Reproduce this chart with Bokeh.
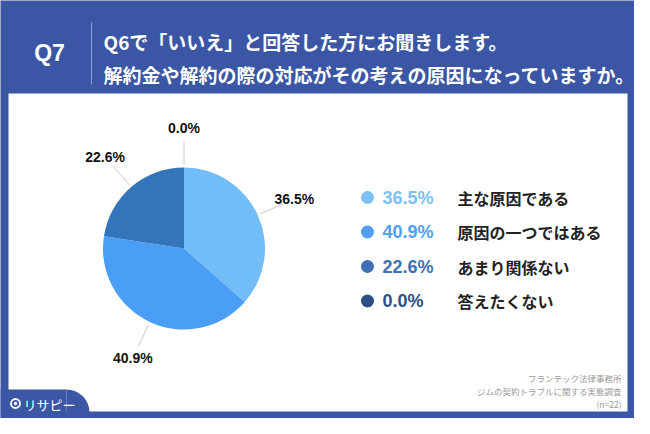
import math
from bokeh.plotting import figure
from bokeh.models import Range1d
from bokeh.core.properties import value
from bokeh.embed import file_html
from bokeh.resources import INLINE

# ---- data ----
categories = ["主な原因である", "原因の一つではある", "あまり関係ない", "答えたくない"]
percents = [36.5, 40.9, 22.6, 0.0]
colors = ["#72bdf8", "#4a9ef5", "#3474b8", "#2c4f85"]
legend_colors = ["#7cc0f6", "#519ff0", "#3d71b3", "#2c4f85"]
question_id = "Q7"
title_lines = ["Q6で「いいえ」と回答した方にお聞きします。",
               "解約金や解約の際の対応がその考えの原因になっていますか。"]
source_lines = ["フランテック法律事務所", "ジムの契約トラブルに関する実態調査", "(n=22)"]
brand = "リサピー"

BLUE = "#3b56a4"
JP = value("Noto Sans CJK JP")
LAT = value("Liberation Sans")

p = figure(width=634, height=418, output_backend="svg", toolbar_location=None,
           x_range=Range1d(0, 634), y_range=Range1d(-418, 0), min_border=0)
p.axis.visible = False
p.grid.visible = False
p.outline_line_color = None
p.background_fill_color = BLUE
p.border_fill_color = BLUE

# white panel
p.quad(left=8, right=627, top=-93, bottom=-411, fill_color="white", line_color=None)

# header
p.text(x=[49], y=[-52], text=[question_id], text_font=LAT, text_font_style="bold",
       text_font_size="23px", text_color="white", text_align="center", text_baseline="middle")
p.segment(x0=[91], y0=[-22], x1=[91], y1=[-84], line_color="#8fa0cf", line_width=1)
p.text(x=[103, 103], y=[-41, -74], text=title_lines, text_font=JP, text_font_style="bold",
       text_font_size="19px", text_color="white", text_align="left", text_baseline="middle")

# pie
cx, cy, R = 183.5, -248, 81
total = sum(percents)
starts, ends = [], []
acc = 0.0
for v in percents:
    starts.append(acc)
    acc += v / total
    ends.append(acc)

ws = [(math.pi / 2 - 2 * math.pi * e, math.pi / 2 - 2 * math.pi * s, c)
      for s, e, c, v in zip(starts, ends, colors, percents) if v > 0]
p.wedge(x=[cx] * len(ws), y=[cy] * len(ws), radius=R,
        start_angle=[w[0] for w in ws], end_angle=[w[1] for w in ws],
        fill_color=[w[2] for w in ws], line_color=None)

lx0, ly0, lx1, ly1, tx, ty, tt = [], [], [], [], [], [], []
for s, e, v in zip(starts, ends, percents):
    th = 2 * math.pi * (s + e) / 2
    sx, sy = math.sin(th), math.cos(th)
    lx0.append(cx + 84 * sx); ly0.append(cy + 84 * sy)
    lx1.append(cx + 108 * sx); ly1.append(cy + 108 * sy)
    tx.append(cx + 121 * sx); ty.append(cy + 121 * sy)
    tt.append(f"{v:.1f}%")
p.segment(x0=lx0, y0=ly0, x1=lx1, y1=ly1, line_color="#c8c8c8", line_width=1)
p.text(x=tx, y=ty, text=tt, text_font=LAT, text_font_style="bold", text_font_size="14px",
       text_color="#111111", text_align="center", text_baseline="middle")

# legend
ly = [-(197 + i * 34.5) for i in range(len(categories))]
p.scatter(x=[367] * len(categories), y=ly, size=13, fill_color=legend_colors, line_color=None)
p.text(x=[382] * len(categories), y=ly, text=[f"{v:.1f}%" for v in percents], text_font=LAT,
       text_font_style="bold", text_font_size="18px", text_color=legend_colors,
       text_align="left", text_baseline="middle")
p.text(x=[457] * len(categories), y=ly, text=categories, text_font=JP, text_font_style="bold",
       text_font_size="16px", text_color="#222222", text_align="left", text_baseline="middle")

# source
p.text(x=[621] * 3, y=[-377, -390, -403], text=source_lines, text_font=JP,
       text_font_size="8.5px", text_color="#9a9a9a", text_align="right", text_baseline="middle")

# brand badge
p.quad(left=0, right=66, top=-389, bottom=-418, fill_color=BLUE, line_color=None)
p.wedge(x=[66], y=[-412], radius=23, start_angle=0, end_angle=math.pi / 2,
        fill_color=BLUE, line_color=None)
p.quad(left=66, right=89, top=-411, bottom=-418, fill_color=BLUE, line_color=None)
p.scatter(x=[15], y=[-403], size=9, fill_color=None, line_color="white", line_width=1.8)
p.scatter(x=[15], y=[-403], size=3.5, fill_color="white", line_color=None)
p.text(x=[23], y=[-404], text=[brand], text_font=JP, text_font_size="13px",
       text_color="white", text_align="left", text_baseline="middle")

open("out.html", "w").write(file_html(p, INLINE))
